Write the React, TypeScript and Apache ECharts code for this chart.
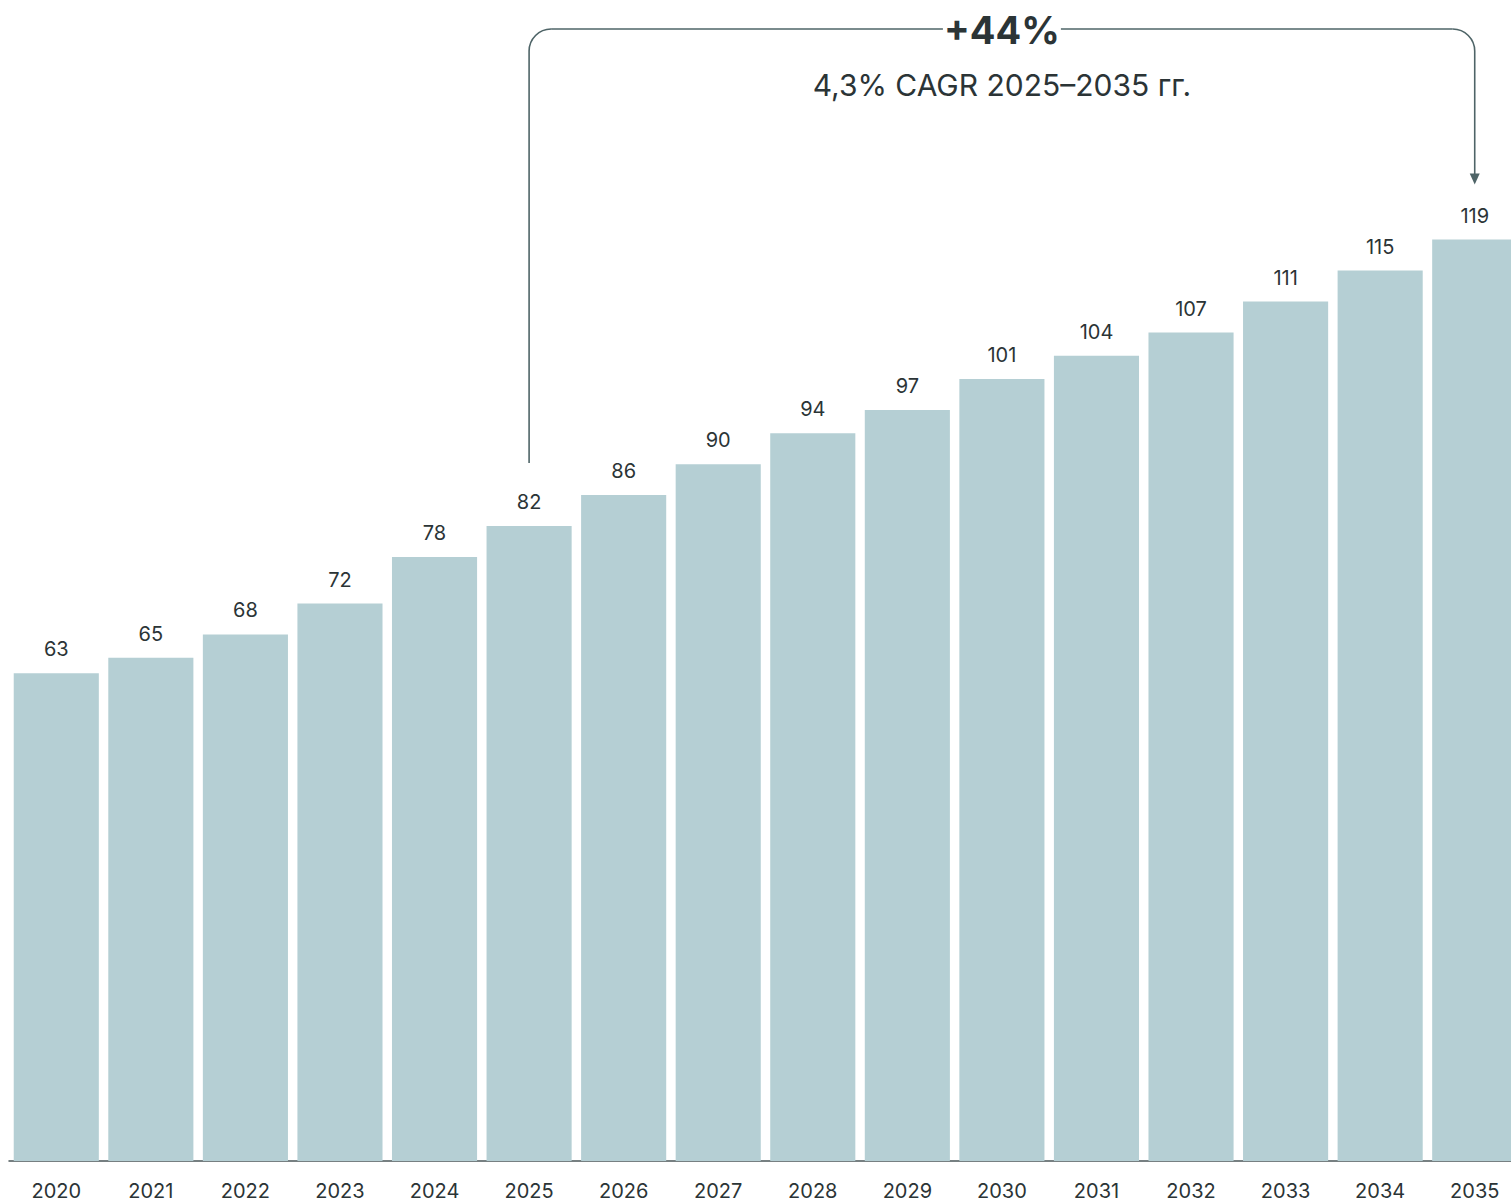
import React, { useEffect, useRef } from "react";
import * as echarts from "echarts";

const years = ["2020", "2021", "2022", "2023", "2024", "2025", "2026", "2027", "2028", "2029", "2030", "2031", "2032", "2033", "2034", "2035"];
const values = [63, 65, 68, 72, 78, 82, 86, 90, 94, 97, 101, 104, 107, 111, 115, 119];
const growthLabel = "+44%";
const cagrLabel = "4,3% CAGR 2025–2035 гг.";
const fromYear = "2025";
const toYear = "2035";

const BAR = "#b5cfd4";
const LINE = "#4e6467";
const TEXT = "#2b3436";
const FONT = "Inter, 'Noto Sans', sans-serif";

export default function App() {
  const ref = useRef<HTMLDivElement>(null);
  useEffect(() => {
    document.body.style.margin = "0";
    if (!ref.current) return;
    const chart = echarts.init(ref.current, null, { renderer: "svg" });
    chart.setOption({
      animation: false,
      grid: { left: 9, right: 0, top: 77, bottom: 41 },
      xAxis: {
        type: "category",
        data: years,
        axisLine: { lineStyle: { color: "#4a5658", width: 1.5 } },
        axisTick: { show: false },
        axisLabel: { color: TEXT, fontSize: 20, fontFamily: FONT, margin: 20 },
      },
      yAxis: { type: "value", min: 0, max: 140, show: false, splitLine: { show: false } },
      series: [
        {
          type: "bar",
          data: values,
          barCategoryGap: "10%",
          itemStyle: { color: BAR },
          label: { show: true, position: "top", distance: 14, color: TEXT, fontSize: 20, fontFamily: FONT },
        },
      ],
    });

    const i0 = years.indexOf(fromYear);
    const i1 = years.indexOf(toYear);
    const p0 = chart.convertToPixel({ gridIndex: 0 }, [i0, values[i0]]) as number[];
    const p1 = chart.convertToPixel({ gridIndex: 0 }, [i1, values[i1]]) as number[];
    const x0 = p0[0];
    const x1 = p1[0];
    const yTop = 29;
    const r = 22;
    const yLeftEnd = p0[1] - 63;
    const tipY = p1[1] - 55;
    const mid = (x0 + x1) / 2;
    const halfGap = 59;
    const ls = { stroke: LINE, lineWidth: 1.6, fill: "none" };

    chart.setOption({
      graphic: [
        { type: "line", shape: { x1: x0, y1: yLeftEnd, x2: x0, y2: yTop + r }, style: ls },
        { type: "arc", shape: { cx: x0 + r, cy: yTop + r, r, startAngle: Math.PI, endAngle: Math.PI * 1.5 }, style: ls },
        { type: "line", shape: { x1: x0 + r, y1: yTop, x2: mid - halfGap, y2: yTop }, style: ls },
        { type: "line", shape: { x1: mid + halfGap, y1: yTop, x2: x1 - r, y2: yTop }, style: ls },
        { type: "arc", shape: { cx: x1 - r, cy: yTop + r, r, startAngle: -Math.PI / 2, endAngle: 0 }, style: ls },
        { type: "line", shape: { x1: x1, y1: yTop + r, x2: x1, y2: tipY - 10 }, style: ls },
        { type: "polygon", shape: { points: [[x1 - 5, tipY - 11], [x1 + 5, tipY - 11], [x1, tipY]] }, style: { fill: LINE } },
        {
          type: "text",
          x: mid,
          y: yTop + 1,
          style: { text: growthLabel, fill: TEXT, font: `bold 38px ${FONT}`, align: "center", verticalAlign: "middle" },
        },
        {
          type: "text",
          x: mid,
          y: 85,
          style: { text: cagrLabel, fill: TEXT, font: `30px ${FONT}`, align: "center", verticalAlign: "middle" },
        },
      ],
    });
    return () => chart.dispose();
  }, []);

  return (
    <div style={{ width: 1511, height: 1202, overflow: "hidden" }}>
      <div ref={ref} style={{ width: 1522, height: 1202 }} />
    </div>
  );
}
